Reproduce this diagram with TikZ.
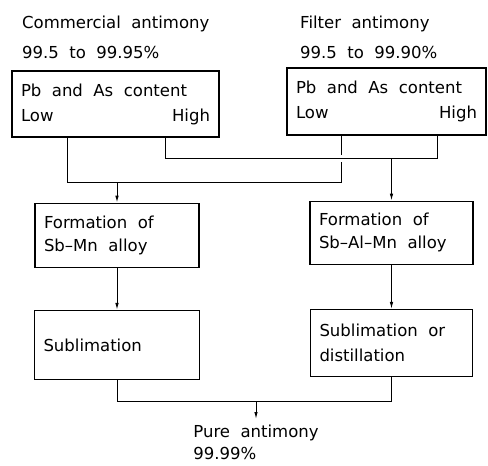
\documentclass[tikz,border=0pt]{standalone}
\usepackage{fontspec}
\setmainfont{DejaVu Sans}[WordSpace=2]
\usepackage{tikz}
\usetikzlibrary{positioning,arrows.meta}
\tikzset{
    stagebox/.style={
        rectangle, draw, fill=white,
        line width=1.3pt, inner xsep=9pt, align=flush left,
        font=\fontsize{16.5pt}{25pt}\selectfont
    },
    srclabel/.style={
        inner xsep=0pt, inner ysep=2pt, align=left,
        font=\fontsize{16.5pt}{25pt}\selectfont
    },
    link/.style={line width=1pt},
    flow/.style={line width=1pt, -{Latex[length=7pt,width=3.5pt]}},
    bridge/.style={
        preaction={draw=white, line width=7pt, shorten <=4pt, shorten >=4pt}
    }
}

\begin{document}
\begin{tikzpicture}
    \useasboundingbox (0,0) rectangle (488pt,-466pt);

    % raw materials
    \node[srclabel, anchor=north west] (comm) at (22pt,-14pt)
        {Commercial antimony\\[5pt]99.5 to 99.95\%};
    \node[srclabel, anchor=north west] (filt) at (300pt,-14pt)
        {Filter antimony\\[5pt]99.5 to 99.90\%};

    \node[stagebox, minimum width=207pt, minimum height=66pt, text width=189pt]
        (lead1) at (115.5pt,-104pt) {Pb and As content\\Low\hfill High};
    \node[stagebox, minimum width=199pt, minimum height=67pt, text width=181pt]
        (lead2) at (386.5pt,-101.5pt) {Pb and As content\\Low\hfill High};

    % alloying
    \node[stagebox, minimum width=164pt, minimum height=64pt, text width=146pt,
          below=65pt of lead1, xshift=1.5pt] (alloy1) {Formation of\\[-2pt]Sb–Mn alloy};
    \node[stagebox, minimum width=163pt, minimum height=63pt, text width=145pt,
          below=65pt of lead2, xshift=5pt] (alloy2) {Formation of\\[-2pt]Sb–Al–Mn alloy};

    % refining
    \node[stagebox, minimum width=165pt, minimum height=69pt, text width=147pt,
          below=42pt of alloy1] (subl1) {Sublimation};
    \node[stagebox, minimum width=162pt, minimum height=67pt, text width=144pt,
          below=44pt of alloy2] (subl2) {Sublimation or\\distillation};

    \node[srclabel, anchor=north, inner ysep=6pt] (pure) at (256pt,-419pt)
        {Pure antimony\\[-3pt]99.99\%};

    % take-off points under Low / High
    \coordinate (lo1) at ([xshift=56pt]lead1.south west);
    \coordinate (hi1) at ([xshift=-54pt]lead1.south east);
    \coordinate (lo2) at ([xshift=55pt]lead2.south west);
    \coordinate (hi2) at ([xshift=-49pt]lead2.south east);

    \draw[link] (lo1) -- ++(0,-45pt) coordinate (lobus) -| (lo2);
    \draw[link, bridge] (hi1) -- ++(0,-21pt) coordinate (hibus) -| (hi2);
    \draw[flow] (alloy1.north |- lobus) -- (alloy1.north);
    \draw[flow] (alloy2.north |- hibus) -- (alloy2.north);

    \draw[flow] (alloy1.south) -- (alloy1.south |- subl1.north);
    \draw[flow] (alloy2.south) -- (alloy2.south |- subl2.north);

    \draw[link] (subl1.south) -- ++(0,-21pt) coordinate (outbus) -| (subl2.south);
    \draw[flow] (pure.north |- outbus) -- (pure.north);
\end{tikzpicture}
\end{document}
